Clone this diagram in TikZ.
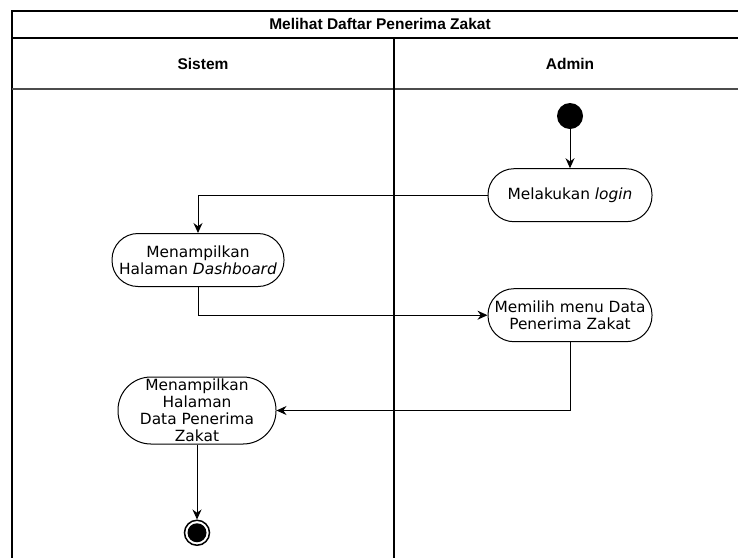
\documentclass[tikz,border=0pt]{standalone}
\usepackage{fontspec}
\setmainfont{DejaVu Sans}
\newfontfamily\headfont{Liberation Sans}
\usetikzlibrary{arrows.meta, positioning}

\begin{document}
\begin{tikzpicture}[x=1pt, y=-1pt,
        act/.style={draw, line width=1pt, rounded corners=26pt, minimum width=164pt,
            minimum height=53pt, inner sep=0pt, align=center, font=\fontsize{15.4}{17}\selectfont},
        flow/.style={-{Stealth[length=10pt, width=9pt]}, line width=1pt},
        lane/.style={line width=1.4pt},
        head/.style={font=\headfont\bfseries\fontsize{15.5}{18}\selectfont}]
    \useasboundingbox (0,0) rectangle (738,558);
    % swimlanes
    \draw[lane] (748,11) -- (12,11) -- (12,558);
    \draw[lane] (12,38) -- (748,38);
    \draw[lane, black!70, line width=2pt] (12,89) -- (748,89);
    \draw[lane] (394,38) -- (394,558);
    \node[head] (title) at (380,24) {Melihat Daftar Penerima Zakat};
    \node[head] (sistem) at (203,64) {Sistem};
    \node[head] (admin) at (570,64) {Admin};
    % activities
    \node[circle, fill, minimum size=26pt, inner sep=0pt] (start) at (570,116) {};
    \node[act, below=39pt of start] (login) {Melakukan \textit{login}};
    \node[act, below=66pt of login] (menu) {Memilih menu Data\\Penerima Zakat};
    \node[act, minimum width=172pt] (dash) at (198,260) {Menampilkan\\Halaman \textit{Dashboard}};
    \node[act, minimum width=158pt, minimum height=67pt, rounded corners=33pt] (show) at (197,410.5)
        {Menampilkan\\Halaman\\Data Penerima\\Zakat};
    \node[circle, draw, line width=1.5pt, minimum size=25pt, inner sep=0pt, below=75pt of show] (stop) {};
    \fill (stop) circle (9.5pt);
    % transitions
    \draw[flow] (start) -- (login);
    \draw[flow] (login.west) -| (dash.north);
    \draw[flow] (dash.south) |- (menu.west);
    \draw[flow] (menu.south) |- (show.east);
    \draw[flow] (show.south) -- (stop);
\end{tikzpicture}
\end{document}
